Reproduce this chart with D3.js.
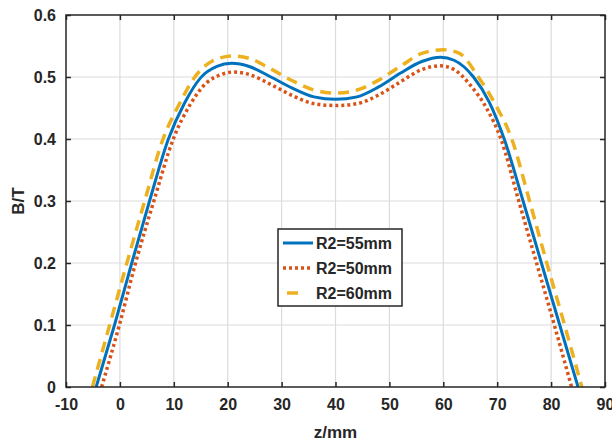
<!DOCTYPE html>
<html>
<head>
<meta charset="utf-8">
<script src="https://cdn.jsdelivr.net/npm/d3@7"></script>
<style>
body { margin: 0; background: #fff; }
svg text { font-family: "Liberation Sans", Arial, sans-serif; font-weight: bold; fill: #262626; }
</style>
</head>
<body>
<svg id="graph" width="612" height="445"></svg>
<script>
var xTicks = [-10, 0, 10, 20, 30, 40, 50, 60, 70, 80, 90];
var yTicks = [0, 0.1, 0.2, 0.3, 0.4, 0.5, 0.6];

// R2=55mm
var z55 = [-4.4, -1, 2.2, 5.5, 9, 12, 15, 18, 20.7, 24, 28, 32, 36, 40, 44, 48, 52, 56, 59.5, 62, 65.6, 68.5, 71.3, 74.8, 78.2, 81.6, 85];
var b55 = [0, 0.1, 0.2, 0.3, 0.4, 0.458, 0.499, 0.517, 0.522, 0.517, 0.5, 0.482, 0.468, 0.464, 0.468, 0.484, 0.506, 0.525, 0.532, 0.527, 0.5, 0.46, 0.4, 0.3, 0.2, 0.1, 0];
// R2=50mm
var z50 = [-3.4, -0.1, 2.9, 6.3, 9.9, 13, 16, 18.5, 21, 24, 28, 32, 36, 40, 44, 48, 52, 56, 59.5, 62, 65, 68, 70.7, 74, 77.3, 80.6, 83.8];
var b50 = [0, 0.1, 0.2, 0.3, 0.4, 0.455, 0.49, 0.503, 0.508, 0.504, 0.488, 0.47, 0.457, 0.454, 0.457, 0.471, 0.492, 0.512, 0.518, 0.512, 0.487, 0.45, 0.4, 0.3, 0.2, 0.1, 0];
// R2=60mm
var z60 = [-5.1, -1.9, 1.3, 4.6, 8.0, 11, 13.9, 17, 21, 24, 28, 32, 36, 40, 44, 48, 52, 56, 60, 63, 66.5, 69.7, 72.7, 76, 79.2, 82.5, 85.7];
var b60 = [0, 0.1, 0.2, 0.3, 0.4, 0.456, 0.5, 0.525, 0.534, 0.53, 0.513, 0.494, 0.479, 0.474, 0.479, 0.495, 0.517, 0.538, 0.544, 0.538, 0.5, 0.455, 0.4, 0.3, 0.2, 0.1, 0];

var seriesNames = ["R2=55mm", "R2=50mm", "R2=60mm"];

var svg = d3.select("#graph");
var pL = 66, pR = 605, pT = 15, pB = 387;

var x = d3.scaleLinear().domain([-10, 90]).range([pL, pR]);
var y = d3.scaleLinear().domain([0, 0.6]).range([pB, pT]);

// grid
svg.append("g").selectAll("line").data(xTicks.slice(1, -1)).enter().append("line")
    .attr("x1", function(d) { return x(d); }).attr("x2", function(d) { return x(d); })
    .attr("y1", pT).attr("y2", pB)
    .attr("stroke", "#dcdcdc").attr("stroke-width", 1.2);
svg.append("g").selectAll("line").data(yTicks.slice(1, -1)).enter().append("line")
    .attr("y1", function(d) { return y(d); }).attr("y2", function(d) { return y(d); })
    .attr("x1", pL).attr("x2", pR)
    .attr("stroke", "#dcdcdc").attr("stroke-width", 1.2);

var series = [
    {name: seriesNames[0], z: z55, b: b55, color: "#0072BD", dash: null, width: 3, legX: [283, 313]},
    {name: seriesNames[1], z: z50, b: b50, color: "#D95319", dash: "3,3", width: 3.5, legX: [283, 313]},
    {name: seriesNames[2], z: z60, b: b60, color: "#EDB120", dash: "11,7", width: 3.5, legX: [287, 298]}
];

var line = d3.line()
    .x(function(d) { return x(d[0]); })
    .y(function(d) { return y(d[1]); })
    .curve(d3.curveMonotoneX);

svg.append("defs").append("clipPath").attr("id", "clip")
    .append("rect").attr("x", pL).attr("y", pT).attr("width", pR - pL).attr("height", pB - pT);

series.forEach(function(s) {
    var pts = s.z.map(function(v, i) { return [v, s.b[i]]; });
    svg.append("path")
        .attr("d", line(pts))
        .attr("fill", "none")
        .attr("stroke", s.color)
        .attr("stroke-width", s.width)
        .attr("stroke-dasharray", s.dash)
        .attr("clip-path", "url(#clip)");
});

// axes (box with inward ticks)
var axB = d3.axisBottom(x).tickValues(xTicks).tickSizeInner(-5).tickSizeOuter(0).tickPadding(12).tickFormat(function(d) { return String(d); });
var axL = d3.axisLeft(y).tickValues(yTicks).tickSizeInner(-5).tickSizeOuter(0).tickPadding(10).tickFormat(function(d) { return d === 0 ? "0" : d3.format(".1f")(d); });
var axT = d3.axisTop(x).tickValues(xTicks).tickSizeInner(-5).tickSizeOuter(0).tickFormat("");
var axR = d3.axisRight(y).tickValues(yTicks).tickSizeInner(-5).tickSizeOuter(0).tickFormat("");

var gB = svg.append("g").attr("transform", "translate(0," + pB + ")").call(axB);
var gL = svg.append("g").attr("transform", "translate(" + pL + ",0)").call(axL);
var gT = svg.append("g").attr("transform", "translate(0," + pT + ")").call(axT);
var gR = svg.append("g").attr("transform", "translate(" + pR + ",0)").call(axR);

[gB, gL, gT, gR].forEach(function(g) {
    g.select(".domain").remove();
    g.selectAll(".tick line").attr("stroke", "#262626").attr("stroke-width", 1.5);
    g.selectAll("text").attr("font-size", 16).attr("fill", "#262626");
});

svg.append("rect")
    .attr("x", pL).attr("y", pT)
    .attr("width", pR - pL).attr("height", pB - pT)
    .attr("fill", "none").attr("stroke", "#262626").attr("stroke-width", 1.5);

// axis labels
svg.append("text").attr("x", (pL + pR) / 2).attr("y", 438)
    .attr("text-anchor", "middle").attr("font-size", 17).text("z/mm");
svg.append("text").attr("transform", "translate(24," + ((pT + pB) / 2) + ") rotate(-90)")
    .attr("text-anchor", "middle").attr("font-size", 17).text("B/T");

// legend
var lg = svg.append("g");
lg.append("rect").attr("x", 278).attr("y", 229).attr("width", 124).attr("height", 77)
    .attr("fill", "#fff").attr("stroke", "#262626").attr("stroke-width", 1.5);
var rowY = [243, 268, 293];
series.forEach(function(s, i) {
    lg.append("line")
        .attr("x1", s.legX[0]).attr("x2", s.legX[1])
        .attr("y1", rowY[i]).attr("y2", rowY[i])
        .attr("stroke", s.color)
        .attr("stroke-width", s.width)
        .attr("stroke-dasharray", i === 2 ? null : s.dash);
    lg.append("text").attr("x", 316).attr("y", rowY[i] + 6)
        .attr("font-size", 16).attr("fill", "#000").text(s.name);
});
</script>
</body>
</html>
